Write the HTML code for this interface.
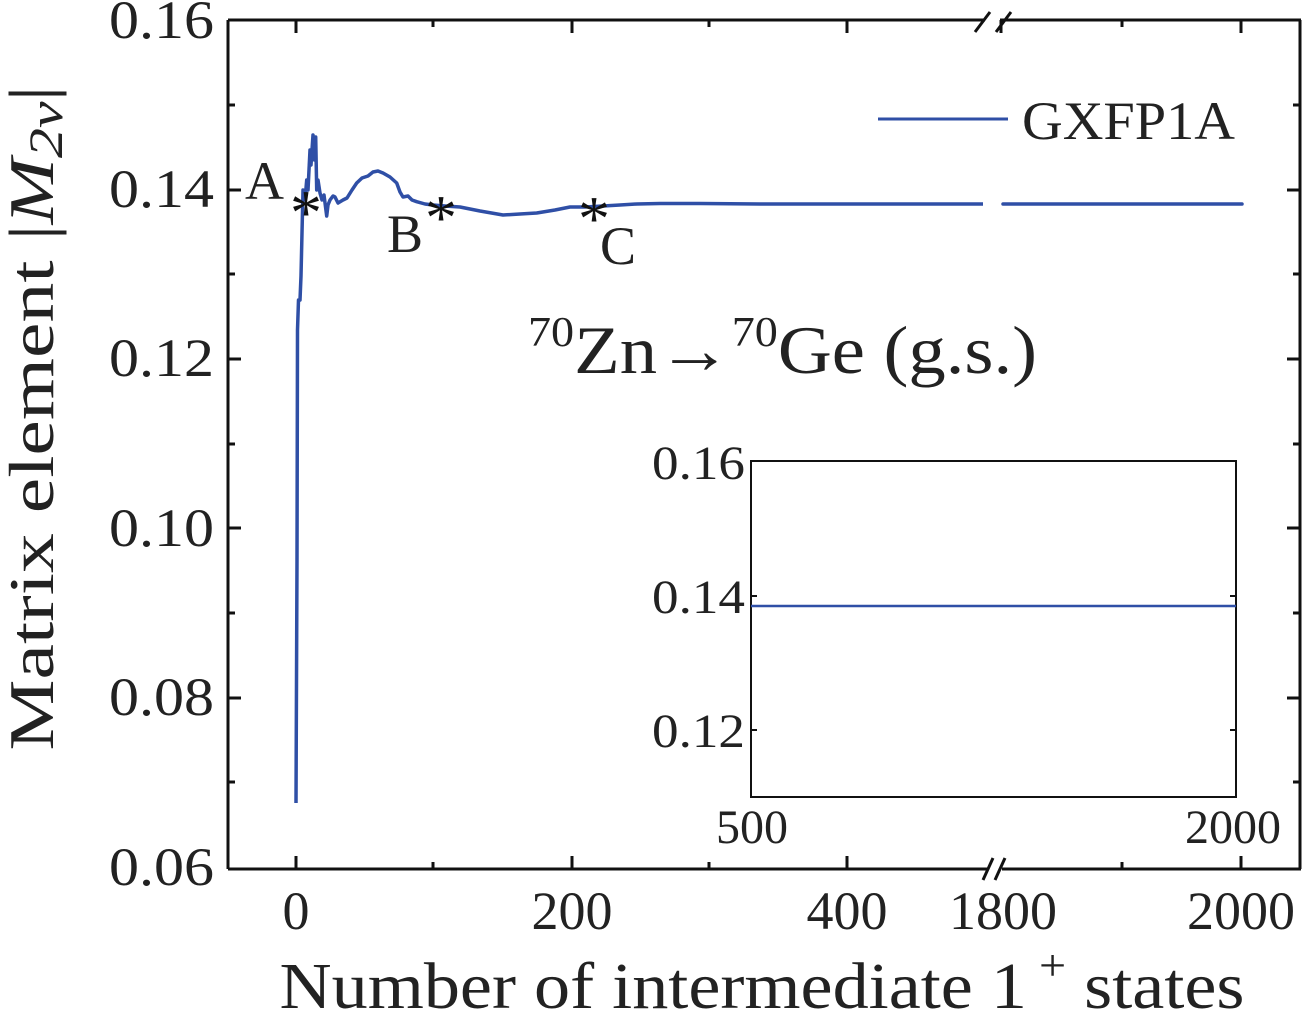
<!DOCTYPE html>
<html><head><meta charset="utf-8"><style>
html,body{margin:0;padding:0;background:#fff;}
svg{display:block;font-family:"Liberation Serif",serif;}
</style></head><body>
<svg width="1303" height="1013" viewBox="0 0 1303 1013" xmlns="http://www.w3.org/2000/svg">
<g stroke="#111" stroke-width="3" fill="none">
<line x1="228" y1="20" x2="985" y2="20"/>
<line x1="1000" y1="20" x2="1301" y2="20"/>
<line x1="228" y1="869" x2="988" y2="869"/>
<line x1="1002" y1="869" x2="1301" y2="869"/>
<line x1="228" y1="20" x2="228" y2="869"/>
<line x1="1300" y1="20" x2="1300" y2="869"/>
<line x1="975" y1="32" x2="990" y2="12"/>
<line x1="996" y1="32" x2="1011" y2="12"/>
<line x1="983" y1="880" x2="993" y2="858"/>
<line x1="995" y1="880" x2="1005" y2="858"/>
<path d="M228 190h13M228 359h13M228 528h13M228 698h13M228 105h7M228 274h7M228 444h7M228 613h7M228 782h7"/>
<path d="M1300 190h-13M1300 359h-13M1300 528h-13M1300 698h-13M1300 105h-7M1300 274h-7M1300 444h-7M1300 613h-7M1300 782h-7"/>
<path d="M296 869v-13M572 869v-13M847 869v-13M1241 869v-13M433 869v-7M709 869v-7M1122 869v-7"/>
<path d="M296 20v13M572 20v13M847 20v13M1001 20v13M1241 20v13M433 20v7M709 20v7M1122 20v7"/>
</g>
<polyline fill="none" stroke="#2f4fa6" stroke-width="3.5" stroke-linejoin="round" points="296,803 297,560 297.5,330 298.5,300 300,300 301,276 303,190 305,200 306.7,180 308,190 310,150 311,165 313,135 314.5,160 315.7,137 316.7,190 318,180 320,193 322,200 324,195 326.7,216 328,205 330,200 333,196 335,197 338,203 343,200 347,198 352,190 356.7,183 362,178 368,176 373,172 378,171 383,173 390,177 396.7,183 400,192 403,197 408,196 412,200 416.7,201.7 425,204 433,205 445,206 460,207 480,211 503,215 520,214 536.7,213 555,210 570,207 585,207 603,206 620,205 636.7,204 660,203.5 700,203.5 760,204 983,204"/>
<line x1="1003" y1="204" x2="1242" y2="204" stroke="#2f4fa6" stroke-width="3.5" stroke-linecap="round"/>
<line x1="878" y1="119" x2="1008" y2="119" stroke="#2f4fa6" stroke-width="3"/>
<text x="1022" y="139" font-size="54" fill="#222" textLength="213" lengthAdjust="spacingAndGlyphs">GXFP1A</text>
<g font-size="64" fill="#111" text-anchor="middle">
<text x="306" y="234">*</text>
<text x="441" y="239">*</text>
<text x="594" y="240">*</text>
</g>
<g font-size="54" fill="#222">
<text x="245" y="199">A</text>
<text x="387" y="252">B</text>
<text x="600" y="264">C</text>
</g>
<text x="528" y="373" font-size="68" fill="#222" textLength="509" lengthAdjust="spacingAndGlyphs"><tspan font-size="42" dy="-27">70</tspan><tspan dy="27">Zn→</tspan><tspan font-size="42" dy="-27">70</tspan><tspan dy="27">Ge (g.s.)</tspan></text>
<g font-size="54" fill="#222" text-anchor="end">
<text x="214" y="38" textLength="105" lengthAdjust="spacingAndGlyphs">0.16</text>
<text x="214" y="207" textLength="105" lengthAdjust="spacingAndGlyphs">0.14</text>
<text x="214" y="376" textLength="105" lengthAdjust="spacingAndGlyphs">0.12</text>
<text x="214" y="546" textLength="105" lengthAdjust="spacingAndGlyphs">0.10</text>
<text x="214" y="715" textLength="105" lengthAdjust="spacingAndGlyphs">0.08</text>
<text x="214" y="885" textLength="105" lengthAdjust="spacingAndGlyphs">0.06</text>
</g>
<g font-size="54" fill="#222" text-anchor="middle">
<text x="296" y="929">0</text>
<text x="572" y="929">200</text>
<text x="847" y="929">400</text>
<text x="1003" y="929">1800</text>
<text x="1241" y="929">2000</text>
</g>
<text x="762" y="1008" font-size="66" fill="#222" text-anchor="middle" textLength="965" lengthAdjust="spacingAndGlyphs">Number of intermediate 1<tspan font-size="44" dy="-28"> +</tspan><tspan dy="28"> states</tspan></text>
<text transform="translate(53,418) rotate(-90)" font-size="64" fill="#222" text-anchor="middle" textLength="665" lengthAdjust="spacingAndGlyphs">Matrix element |<tspan font-style="italic">M</tspan><tspan font-size="48" dy="9" font-style="italic">2ν</tspan><tspan dy="-9">|</tspan></text>
<rect x="751" y="461" width="485" height="336" fill="none" stroke="#111" stroke-width="2"/>
<path d="M751 596h6M751 730h6M1236 596h-6M1236 730h-6" stroke="#111" stroke-width="2"/>
<line x1="751" y1="606" x2="1236" y2="606" stroke="#2f4fa6" stroke-width="2.5"/>
<g font-size="48" fill="#222" text-anchor="end">
<text x="745" y="479" textLength="93" lengthAdjust="spacingAndGlyphs">0.16</text>
<text x="745" y="613" textLength="93" lengthAdjust="spacingAndGlyphs">0.14</text>
<text x="745" y="747" textLength="93" lengthAdjust="spacingAndGlyphs">0.12</text>
</g>
<g font-size="48" fill="#222" text-anchor="middle">
<text x="752" y="843">500</text>
<text x="1233" y="843">2000</text>
</g>
</svg>
</body></html>
